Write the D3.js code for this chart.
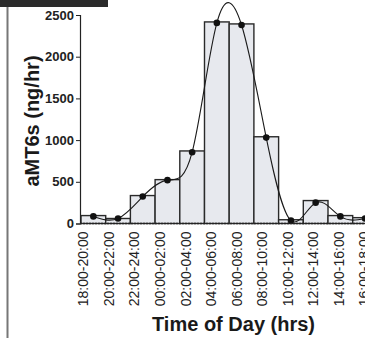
<!DOCTYPE html>
<html>
<head>
    <meta charset="UTF-8">
    <title>aMT6s by time of day</title>
    <!-- link to D3.js -->
    <script src="https://d3js.org/d3.v7.min.js"></script>
    <style>
        body { margin: 0; background: #fff; }
        svg { display: block; font-family: "Liberation Sans", Arial, sans-serif; }
    </style>
</head>
<body>
    <div id="chart"></div>

<script>
    // time bins (2 hour blocks)
    var timeBins = ["18:00-20:00", "20:00-22:00", "22:00-24:00", "00:00-02:00",
                    "02:00-04:00", "04:00-06:00", "06:00-08:00", "08:00-10:00",
                    "10:00-12:00", "12:00-14:00", "14:00-16:00", "16:00-18:00"];

    // mean excretion per bin (bars)
    var barValues = [95, 60, 335, 526, 870, 2417, 2393, 1040, 45, 275, 95, 70];

    // fitted points (dots + smooth curve)
    var pointValues = [85, 60, 323, 520, 855, 2405, 2380, 1030, 35, 250, 85, 60];

    // y axis ticks
    var yTicks = [0, 500, 1000, 1500, 2000, 2500];

    var width = 365, height = 338;

    var svg = d3.select("#chart").append("svg")
        .attr("width", width)
        .attr("height", height);

    // dark title strip at the top (cropped)
    svg.append("rect")
        .attr("x", 0).attr("y", 0)
        .attr("width", 108).attr("height", 7)
        .attr("fill", "#2b2b2b");

    // left frame line
    svg.append("line")
        .attr("x1", 7.5).attr("x2", 7.5)
        .attr("y1", 7).attr("y2", height)
        .attr("stroke", "#777")
        .attr("stroke-width", 2);

    // scales
    var xScale = d3.scaleBand()
        .domain(timeBins)
        .range([81, 81 + 12 * 24.7])
        .padding(0);

    // tick labels sit on a slightly different spacing than the bars
    var labelScale = d3.scalePoint()
        .domain(timeBins)
        .range([83, 364]);

    var yScale = d3.scaleLinear()
        .domain([0, 2500])
        .range([223.5, 15]);

    // bars
    svg.selectAll("rect.bar")
        .data(barValues)
        .enter()
        .append("rect")
            .attr("class", "bar")
            .attr("x", function(d, i){ return xScale(timeBins[i]); })
            .attr("y", function(d){ return yScale(d); })
            .attr("width", xScale.bandwidth())
            .attr("height", function(d){ return yScale(0) - yScale(d); })
            .attr("fill", "#e7e9ee")
            .attr("stroke", "#2a2a2a")
            .attr("stroke-width", 1.4);

    // smooth curve through the points
    var line = d3.line()
        .x(function(d, i){ return xScale(timeBins[i]) + xScale.bandwidth() / 2; })
        .y(function(d){ return yScale(d); })
        .curve(d3.curveNatural);

    svg.append("path")
        .datum(pointValues)
        .attr("d", line)
        .attr("fill", "none")
        .attr("stroke", "#1a1a1a")
        .attr("stroke-width", 1.1);

    // dots
    svg.selectAll("circle")
        .data(pointValues)
        .enter()
        .append("circle")
            .attr("cx", function(d, i){ return xScale(timeBins[i]) + xScale.bandwidth() / 2; })
            .attr("cy", function(d){ return yScale(d); })
            .attr("r", 3.3)
            .attr("fill", "#111");

    // y axis
    var yAxis = d3.axisLeft(yScale)
        .tickValues(yTicks)
        .tickSize(4)
        .tickPadding(2)
        .tickFormat(d3.format("d"));

    var gy = svg.append("g")
        .attr("transform", "translate(80,0)")
        .call(yAxis);
    gy.select(".domain").attr("stroke", "#222").attr("stroke-width", 1.2);
    gy.selectAll("line").attr("stroke", "#222");
    gy.selectAll("text")
        .attr("font-size", "13px")
        .attr("font-weight", "bold")
        .attr("fill", "#222");

    // x axis baseline
    svg.append("line")
        .attr("x1", 80).attr("x2", width)
        .attr("y1", yScale(0)).attr("y2", yScale(0))
        .attr("stroke", "#222")
        .attr("stroke-width", 1.6)
        .attr("stroke-dasharray", "2,1");

    // x tick labels (rotated)
    var xAxis = d3.axisBottom(labelScale).tickSize(0);
    var gx = svg.append("g")
        .attr("transform", "translate(0," + yScale(0) + ")")
        .call(xAxis);
    gx.select(".domain").remove();
    gx.selectAll("text")
        .attr("transform", "rotate(-90)")
        .attr("text-anchor", "end")
        .attr("x", -8)
        .attr("y", 0)
        .attr("dy", "0.35em")
        .attr("font-size", "14px")
        .attr("fill", "#222");

    // axis titles
    svg.append("text")
        .attr("transform", "translate(39,121) rotate(-90)")
        .attr("text-anchor", "middle")
        .attr("font-size", "20px")
        .attr("font-weight", "bold")
        .attr("fill", "#1a1a1a")
        .text("aMT6s (ng/hr)");

    svg.append("text")
        .attr("x", 233.5)
        .attr("y", 331)
        .attr("text-anchor", "middle")
        .attr("font-size", "20px")
        .attr("font-weight", "bold")
        .attr("fill", "#1a1a1a")
        .text("Time of Day (hrs)");
</script>
</body>
</html>
